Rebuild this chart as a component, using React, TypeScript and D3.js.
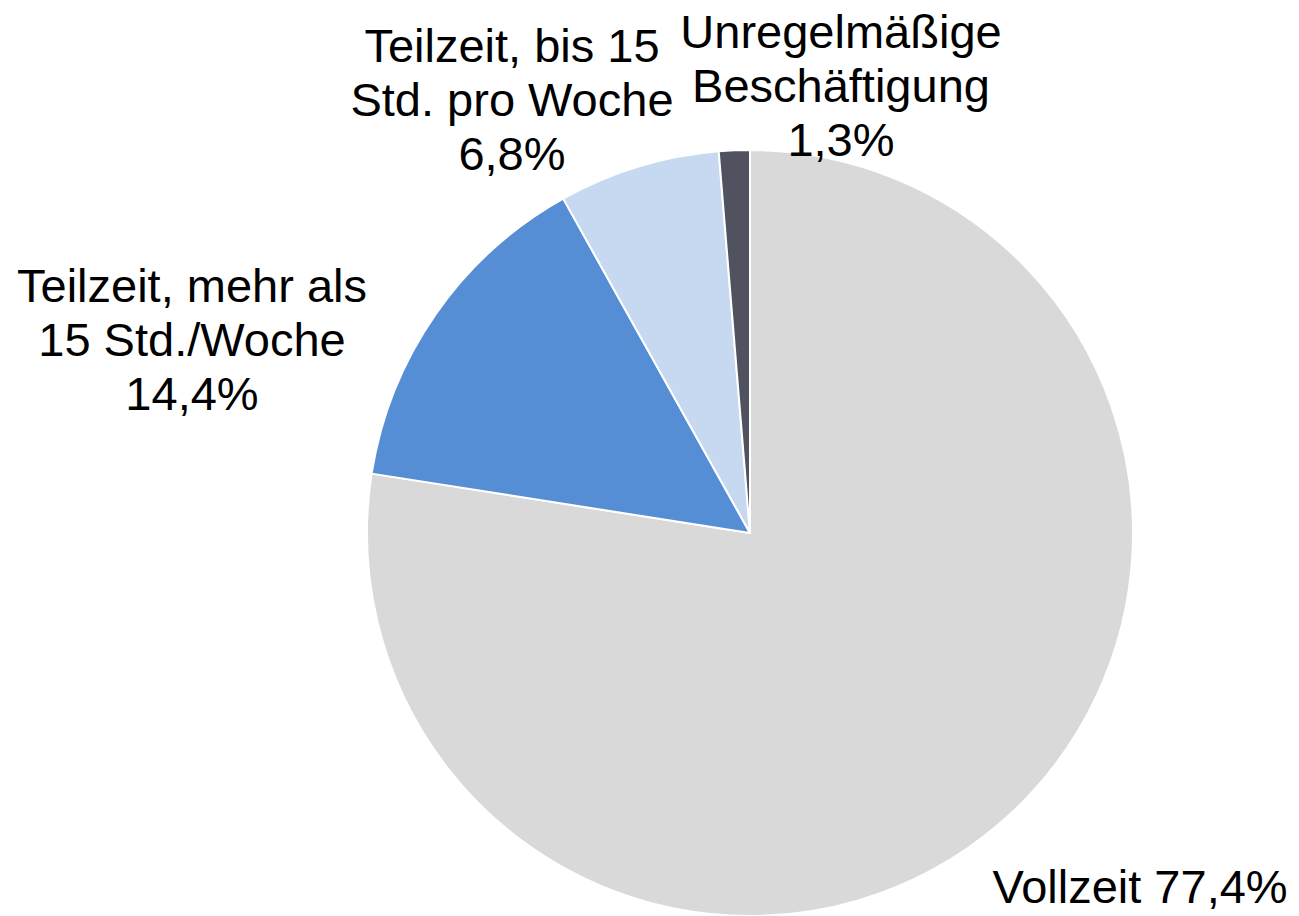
import React from "react";
import * as d3 from "d3";

const categories = [
  "Vollzeit",
  "Teilzeit, mehr als 15 Std./Woche",
  "Teilzeit, bis 15 Std. pro Woche",
  "Unregelmäßige Beschäftigung",
];
const values = [77.4, 14.4, 6.8, 1.3];
const labelLines = [
  ["Vollzeit 77,4%"],
  ["Teilzeit, mehr als", "15 Std./Woche", "14,4%"],
  ["Teilzeit, bis 15", "Std. pro Woche", "6,8%"],
  ["Unregelmäßige", "Beschäftigung", "1,3%"],
];
const colors = ["#d9d9d9", "#558ed5", "#c6d9f1", "#50535f"];

// label layout (center x, first baseline y)
const labelPos = [
  { x: 1140, y: 903 },
  { x: 192, y: 302 },
  { x: 512, y: 62 },
  { x: 841, y: 48 },
];

const W = 1299;
const H = 916;
const cx = 750;
const cy = 533;
const R = 383;
const lineH = 54;

export default function App() {
  const pie = d3
    .pie<number>()
    .sort(null)
    .value((d) => d)
    .startAngle(0)
    .endAngle(2 * Math.PI);
  const arcs = pie(values);
  const arc = d3.arc<d3.PieArcDatum<number>>().innerRadius(0).outerRadius(R);

  return (
    <svg
      width={W}
      height={H}
      style={{ position: "absolute", left: 0, top: 0, background: "#fff" }}
    >
      <g transform={`translate(${cx},${cy})`}>
        {arcs.map((a, i) => (
          <path
            key={categories[i]}
            d={arc(a) || ""}
            fill={colors[i]}
            stroke="#ffffff"
            strokeWidth={2}
            strokeLinejoin="round"
          />
        ))}
      </g>
      {labelLines.map((lines, i) => (
        <text
          key={categories[i]}
          x={labelPos[i].x}
          y={labelPos[i].y}
          textAnchor="middle"
          fontFamily="'Liberation Sans', Arial, sans-serif"
          fontSize={47}
          fill="#000"
        >
          {lines.map((l, j) => (
            <tspan key={j} x={labelPos[i].x} y={labelPos[i].y + j * lineH}>
              {l}
            </tspan>
          ))}
        </text>
      ))}
    </svg>
  );
}
